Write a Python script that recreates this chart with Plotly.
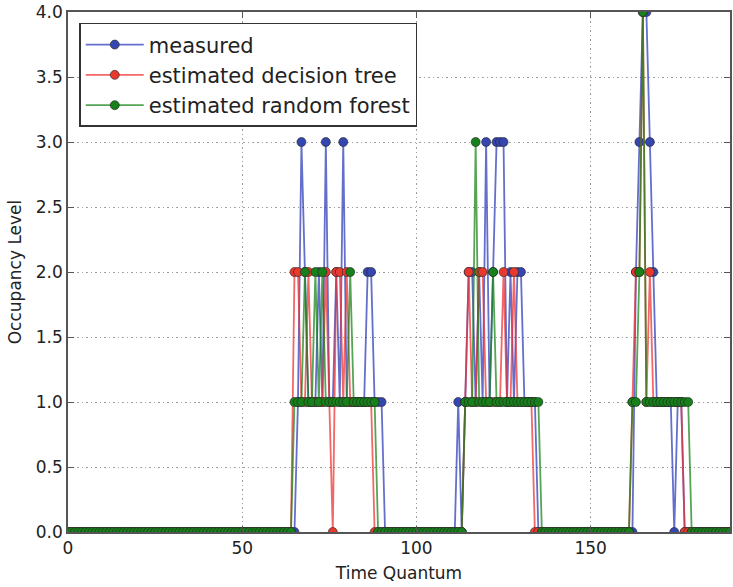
import plotly.graph_objects as go

time = list(range(0, 191))

measured = ([0] * 66 +
            [1, 3, 2, 1, 1, 1, 2, 1, 3, 1, 1, 2, 1, 3, 1, 1, 1, 1, 1, 1, 2, 2, 1, 1, 1] +
            [0] * 21 +
            [1, 0] +
            [1, 2, 2, 1, 2, 1, 3, 1, 2, 3, 3, 3, 1, 2, 1, 2, 2, 1, 1, 1, 1] +
            [0] * 28 +
            [2, 3, 4, 4, 3, 2, 1, 1, 1, 1, 1, 0, 1, 1] +
            [0] * 14)

decision_tree = ([0] * 65 +
                 [2, 2, 1, 1, 2, 1, 1, 1, 1, 2, 1, 0, 2, 2, 1, 2, 1, 1, 1, 1, 1, 1, 1] +
                 [0] * 26 +
                 [1, 2, 1, 1, 2, 2, 1, 1, 1, 1, 1, 2, 1, 1, 2, 1, 1, 1, 1, 1] +
                 [0] * 28 +
                 [1, 2, 2, 4, 1, 2, 1, 1, 1, 1, 1, 1, 1, 1, 1] +
                 [0] * 14)

random_forest = ([0] * 65 +
                 [1, 1, 1, 2, 1, 1, 2, 1, 2, 1, 1, 1, 1, 1, 1, 1, 2, 1, 1, 1, 1, 1, 1, 1] +
                 [0] * 25 +
                 [1, 1, 1, 3, 1, 1, 1, 1, 2, 1, 1, 1, 1, 1, 1, 1, 1, 1, 1, 1, 1, 1] +
                 [0] * 26 +
                 [1, 1, 2, 4, 1, 1, 1, 1, 1, 1, 1, 1, 1, 1, 1, 1, 1] +
                 [0] * 12)

series = [
    ("measured", measured, "#3546b0", "rgba(40,55,185,0.72)"),
    ("estimated decision tree", decision_tree, "#e8392e", "rgba(240,45,45,0.72)"),
    ("estimated random forest", random_forest, "#17801a", "rgba(20,130,20,0.72)"),
]

x_ticks = [0, 50, 100, 150]
y_ticks = [0.0, 0.5, 1.0, 1.5, 2.0, 2.5, 3.0, 3.5, 4.0]

fig = go.Figure()
for name, vals, mcol, lcol in series:
    fig.add_trace(go.Scatter(
        x=time[:len(vals)], y=vals, name=name, mode="lines+markers",
        line=dict(color=lcol, width=1.8),
        marker=dict(color=mcol, size=9, line=dict(color="#222", width=0.6)),
    ))

font = "DejaVu Sans, sans-serif"
axis_common = dict(
    showgrid=True, gridcolor="#a0a0a0", griddash="1.5px,3px", gridwidth=1,
    zeroline=False, showline=True, linecolor="#555", linewidth=1.5, mirror="ticks",
    ticks="inside", ticklen=6, tickcolor="#555",
    tickfont=dict(family=font, size=17, color="#222"),
)

fig.update_layout(
    width=733, height=587,
    margin=dict(l=68, r=1, t=12, b=55),
    paper_bgcolor="white", plot_bgcolor="white",
    xaxis=dict(range=[0, 190], tickvals=x_ticks, ticktext=[str(v) for v in x_ticks],
               title=dict(text="Time Quantum", font=dict(family=font, size=17, color="#222"), standoff=10),
               **axis_common),
    yaxis=dict(range=[0, 4], tickvals=y_ticks, ticktext=[f"{v:.1f}" for v in y_ticks],
               title=dict(text="Occupancy Level", font=dict(family=font, size=17, color="#222"), standoff=10),
               **axis_common),
    legend=dict(x=0.017, y=0.979, xanchor="left", yanchor="top",
                bgcolor="white", bordercolor="#333", borderwidth=1.5,
                font=dict(family=font, size=21, color="#222"),
                itemwidth=58, tracegroupgap=0),
    showlegend=True,
)

fig.write_html("out.html")
